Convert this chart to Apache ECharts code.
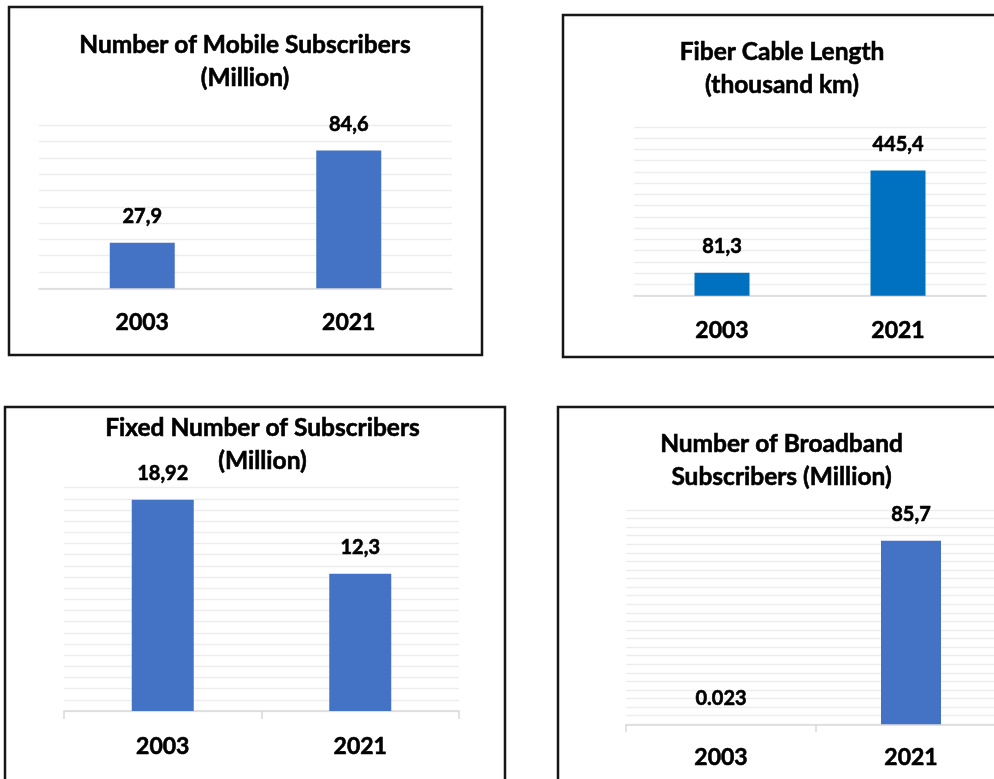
<!DOCTYPE html>
<html>
<head>
<meta charset="utf-8">
<style>
  html, body { margin: 0; padding: 0; background: #ffffff; }
  #chart { width: 994px; height: 779px; }
</style>
<script src="https://cdn.jsdelivr.net/npm/echarts@6/dist/echarts.min.js"></script>
</head>
<body>
<div id="chart"></div>
<script>
// Years shown on every panel
const years = ['2003', '2021'];

// Mobile subscribers (million)
const mobileValues = [27.9, 84.6];
const mobileLabels = ['27,9', '84,6'];

// Fiber cable length (thousand km)
const fiberValues = [81.3, 445.4];
const fiberLabels = ['81,3', '445,4'];

// Fixed-line subscribers (million)
const fixedValues = [18.92, 12.3];
const fixedLabels = ['18,92', '12,3'];

// Broadband subscribers (million)
const broadbandValues = [0.023, 85.7];
const broadbandLabels = ['0.023', '85,7'];

const FONT = 'Lato, "Open Sans", sans-serif';
const BLUE = '#4472C4';
const FIBER_BLUE = '#0070C0';
// thin outline to give the bold text a heavier stroke
const HEAVY = { textBorderColor: '#000000', textBorderWidth: 0.6 };

const panels = [
  { grid: { left: 39, width: 413, top: 125.3, height: 163 }, max: 100, interval: 10,
    values: mobileValues, labels: mobileLabels, color: BLUE, barWidth: 65, ticks: false, margin: 23 },
  { grid: { left: 634, width: 352, top: 127, height: 168.7 }, max: 600, interval: 40,
    values: fiberValues, labels: fiberLabels, color: FIBER_BLUE, barWidth: 55, ticks: false, margin: 23 },
  { grid: { left: 64, width: 395, top: 487.7, height: 223.3 }, max: 20, interval: 1,
    values: fixedValues, labels: fixedLabels, color: BLUE, barWidth: 62, ticks: true, margin: 24 },
  { grid: { left: 626, width: 380, top: 510, height: 214.3 }, max: 100, interval: 4,
    values: broadbandValues, labels: broadbandLabels, color: BLUE, barWidth: 60, ticks: true, margin: 22 }
];

// Panel frames and two-line titles
const frames = [
  { x: 9, y: 7, w: 473, h: 348 },
  { x: 563, y: 15, w: 440, h: 342 },
  { x: 5, y: 407, w: 500, h: 400 },
  { x: 558, y: 407, w: 445, h: 400 }
];
const titles = [
  { x: 245, lines: ['Number of Mobile Subscribers', '(Million)'], y: 45 },
  { x: 782, lines: ['Fiber Cable Length', '(thousand km)'], y: 52 },
  { x: 262.5, lines: ['Fixed Number of Subscribers', '(Million)'], y: 428 },
  { x: 781.5, lines: ['Number of Broadband', 'Subscribers (Million)'], y: 444 }
];

const graphic = [];
frames.forEach(f => {
  graphic.push({
    type: 'rect', silent: true, z: 100,
    shape: { x: f.x, y: f.y, width: f.w, height: f.h },
    style: { fill: 'none', stroke: '#161616', lineWidth: 2.5 }
  });
});
titles.forEach(t => {
  t.lines.forEach((line, i) => {
    graphic.push({
      type: 'text', silent: true, z: 100,
      style: {
        text: line, x: t.x, y: t.y + i * 33,
        textAlign: 'center', textVerticalAlign: 'middle',
        font: 'bold 24.5px ' + FONT, fill: '#000000',
        stroke: '#000000', lineWidth: 0.6
      }
    });
  });
});

const option = {
  animation: false,
  backgroundColor: '#ffffff',
  grid: panels.map(p => Object.assign({ containLabel: false, outerBoundsMode: 'none' }, p.grid)),
  xAxis: panels.map((p, i) => ({
    type: 'category', gridIndex: i, data: years,
    axisLine: { show: true, lineStyle: { color: '#d9d9d9', width: 1.5 } },
    axisTick: { show: p.ticks, length: 8, lineStyle: { color: '#d9d9d9', width: 1.5 } },
    axisLabel: Object.assign({ margin: p.margin, fontFamily: FONT, fontWeight: 'bold', fontSize: 23, color: '#000000' }, HEAVY),
    splitLine: { show: false }
  })),
  yAxis: panels.map((p, i) => ({
    type: 'value', gridIndex: i, min: 0, max: p.max, interval: p.interval,
    axisLine: { show: false }, axisTick: { show: false }, axisLabel: { show: false },
    splitLine: { show: true, lineStyle: { color: '#ededed', width: 1.3 } }
  })),
  series: panels.map((p, i) => ({
    type: 'bar', xAxisIndex: i, yAxisIndex: i,
    data: p.values, barWidth: p.barWidth,
    itemStyle: { color: p.color },
    label: Object.assign({
      show: true, position: 'top', distance: 16,
      fontFamily: FONT, fontWeight: 'bold', fontSize: 20, color: '#000000',
      formatter: params => p.labels[params.dataIndex]
    }, HEAVY)
  })),
  graphic: graphic
};

const chart = echarts.init(document.getElementById('chart'), null, { renderer: 'canvas' });
chart.setOption(option);
</script>
</body>
</html>
